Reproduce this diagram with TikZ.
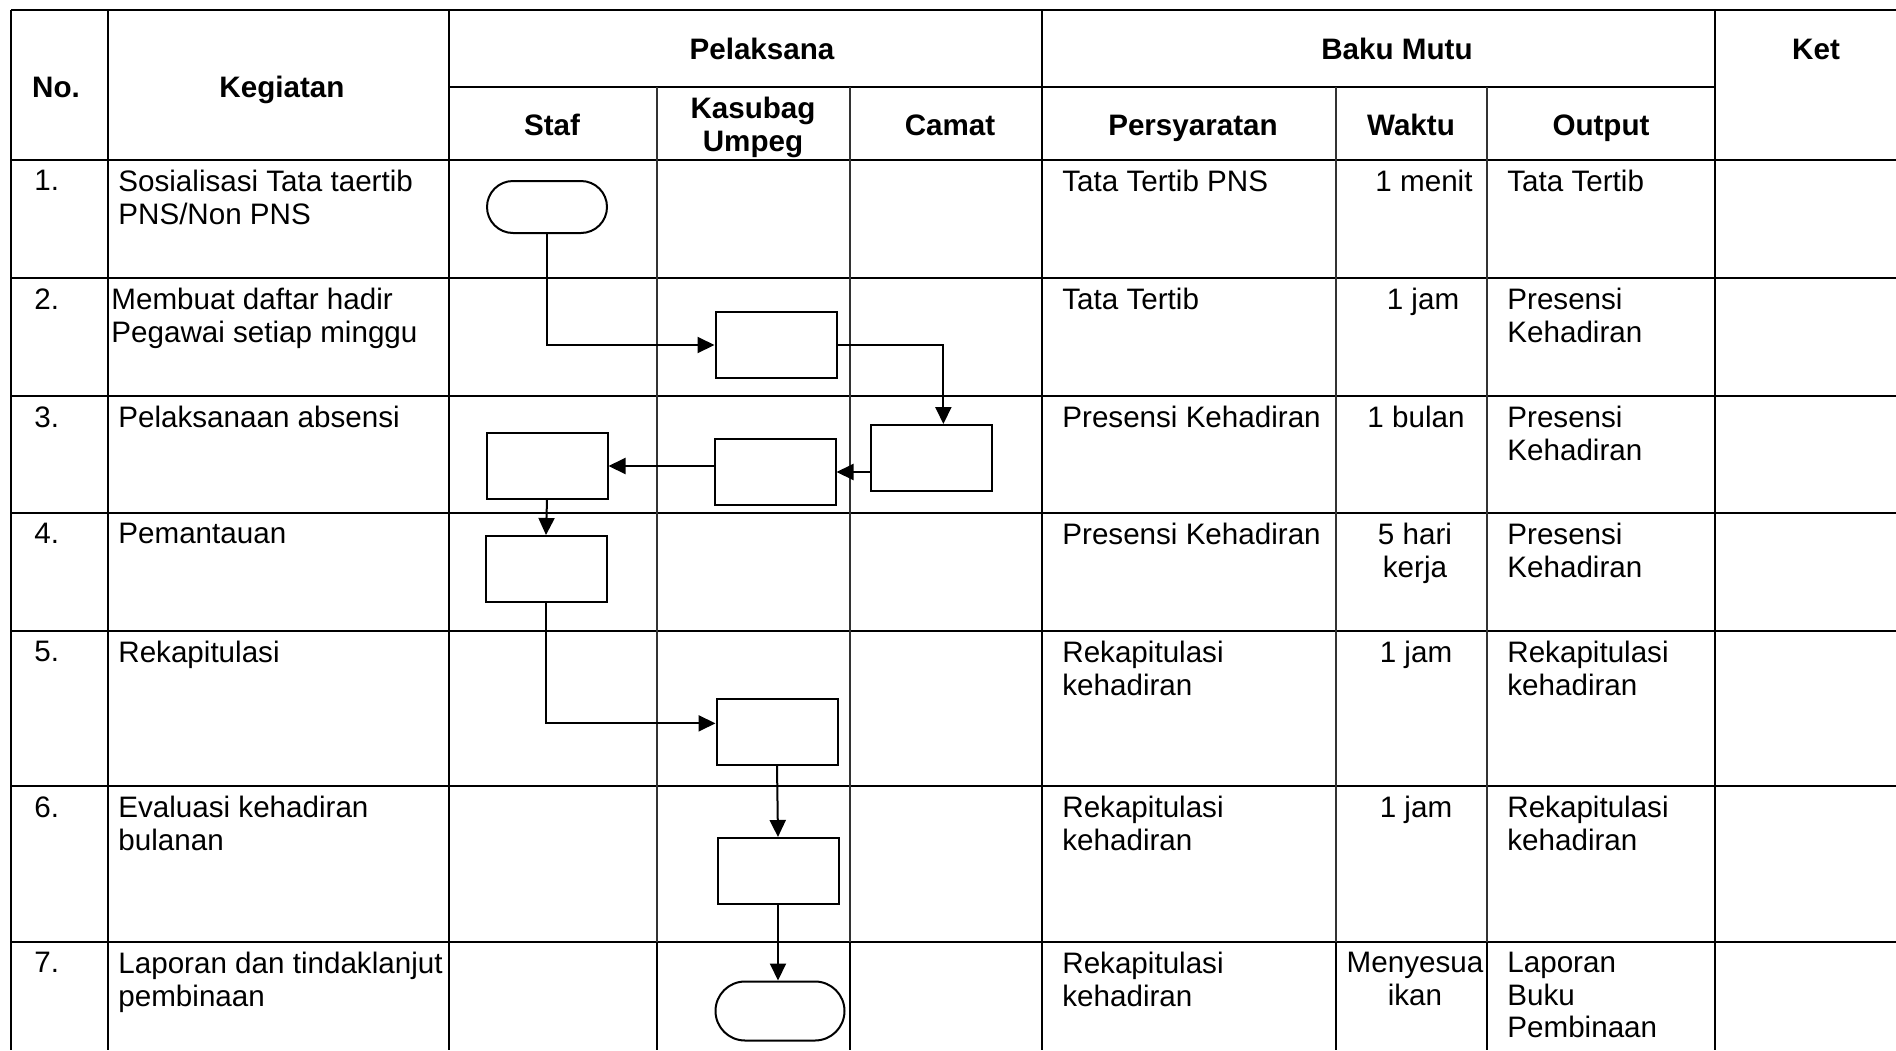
\documentclass[tikz,border=0pt]{standalone}
\usepackage{fontspec}
\setmainfont{Liberation Sans}
\usepackage{tikz}
\usetikzlibrary{arrows.meta,shapes.misc}

\begin{document}
\begin{tikzpicture}[
  x=0.5pt, y=-0.5pt,
  font=\fontsize{14.8pt}{16.2pt}\selectfont,
  hline/.style={line width=1.15pt},
  vline/.style={line width=0.7pt},
  vsub/.style={line width=0.7pt, black!80},
  head/.style={font=\fontsize{14.8pt}{16.2pt}\selectfont\bfseries, align=center, inner sep=0pt},
  cell/.style={anchor=north west, align=left, inner sep=0pt},
  ccell/.style={anchor=north, align=center, inner sep=0pt},
  box/.style={draw, line width=1pt, minimum width=60.5pt, minimum height=33pt, inner sep=0pt},
  term/.style={draw, rounded rectangle, line width=1pt, minimum width=60pt, minimum height=26pt, inner sep=0pt},
  arr/.style={-{Triangle[length=8.5pt,width=8pt]}, line width=1pt}
]
\useasboundingbox (0,0) rectangle (1896,1050);

\draw[hline] (11,10) -- (1896,10);
\draw[hline] (449,87) -- (1715,87);
\draw[hline] (11,160) -- (1896,160);
\draw[hline] (11,278) -- (1896,278);
\draw[hline] (11,396) -- (1896,396);
\draw[hline] (11,513) -- (1896,513);
\draw[hline] (11,631) -- (1896,631);
\draw[hline] (11,786) -- (1896,786);
\draw[hline] (11,942) -- (1896,942);
\draw[hline] (11,10) -- (11,1050);
\draw[vline] (108,10) -- (108,1050);
\draw[vline] (449,10) -- (449,1050);
\draw[vline] (1042,10) -- (1042,1050);
\draw[vline] (1715,10) -- (1715,1050);
\draw[vsub] (657,87) -- (657,942);
\draw[vsub] (850,87) -- (850,942);
\draw[vsub] (1336,87) -- (1336,942);
\draw[vsub] (1487,87) -- (1487,942);
\draw[vline] (657,942) -- (657,1050);
\draw[vline] (850,942) -- (850,1050);
\draw[vline] (1336,942) -- (1336,1050);
\draw[vline] (1487,942) -- (1487,1050);

\node[head, anchor=base] (hno) at (56,97) {No.};
\node[head, anchor=base] (hkeg) at (282,97) {Kegiatan};
\node[head, anchor=base] (hpel) at (762,59) {Pelaksana};
\node[head, anchor=base] (hbaku) at (1397,59) {Baku Mutu};
\node[head, anchor=base] (hket) at (1816,59) {Ket};
\node[head, anchor=base] (hstaf) at (552,135) {Staf};
\node[head, anchor=north] (hkas) at (753,97) {Kasubag\\Umpeg};
\node[head, anchor=base] (hcam) at (950,135) {Camat};
\node[head, anchor=base] (hsyr) at (1193,135) {Persyaratan};
\node[head, anchor=base] (hwkt) at (1411,135) {Waktu};
\node[head, anchor=base] (hout) at (1601,135) {Output};

\node[cell] (n1) at (34,170) {1.};
\node[cell] (k1) at (118,170) {Sosialisasi Tata taertib\\PNS/Non PNS};
\node[cell] (p1) at (1062,170) {Tata Tertib PNS};
\node[ccell] (w1) at (1424,170) {1 menit};
\node[cell] (o1) at (1507,170) {Tata Tertib};

\node[cell] (n2) at (34,288) {2.};
\node[cell] (k2) at (111,288) {Membuat daftar hadir\\Pegawai setiap minggu};
\node[cell] (p2) at (1062,288) {Tata Tertib};
\node[ccell] (w2) at (1423,288) {1 jam};
\node[cell] (o2) at (1507,288) {Presensi\\Kehadiran};

\node[cell] (n3) at (34,406) {3.};
\node[cell] (k3) at (118,406) {Pelaksanaan absensi};
\node[cell] (p3) at (1062,406) {Presensi Kehadiran};
\node[ccell] (w3) at (1416,406) {1 bulan};
\node[cell] (o3) at (1507,406) {Presensi\\Kehadiran};

\node[cell] (n4) at (34,523) {4.};
\node[cell] (k4) at (118,523) {Pemantauan};
\node[cell] (p4) at (1062,523) {Presensi Kehadiran};
\node[ccell] (w4) at (1415,523) {5 hari\\kerja};
\node[cell] (o4) at (1507,523) {Presensi\\Kehadiran};

\node[cell] (n5) at (34,641) {5.};
\node[cell] (k5) at (118,641) {Rekapitulasi};
\node[cell] (p5) at (1062,641) {Rekapitulasi\\kehadiran};
\node[ccell] (w5) at (1416,641) {1 jam};
\node[cell] (o5) at (1507,641) {Rekapitulasi\\kehadiran};

\node[cell] (n6) at (34,796) {6.};
\node[cell] (k6) at (118,796) {Evaluasi kehadiran\\bulanan};
\node[cell] (p6) at (1062,796) {Rekapitulasi\\kehadiran};
\node[ccell] (w6) at (1416,796) {1 jam};
\node[cell] (o6) at (1507,796) {Rekapitulasi\\kehadiran};

\node[cell] (n7) at (34,952) {7.};
\node[cell] (k7) at (118,952) {Laporan dan tindaklanjut\\pembinaan};
\node[cell] (p7) at (1062,952) {Rekapitulasi\\kehadiran};
\node[ccell] (w7) at (1415,952) {Menyesua\\ikan};
\node[cell] (o7) at (1507,952) {Laporan\\Buku\\Pembinaan};

\node[term] (start) at (547,207) {};
\node[box] (daftar) at (776,345) {};
\node[box] (camat) at (931,458) {};
\node[box] (kasub) at (775,472) {};
\node[box] (absen) at (547,466) {};
\node[box] (pantau) at (546,569) {};
\node[box] (rekap) at (777,732) {};
\node[box] (eval) at (778,871) {};
\node[term, minimum width=64.5pt, minimum height=29.5pt] (stop) at (780,1011) {};

\draw[arr] (start.south) |- (daftar.west);
\draw[arr] (daftar.east) -| (camat.70);
\draw[arr] (camat.west |- kasub.east) -- (kasub.east);
\draw[arr] (kasub.west |- absen.east) -- (absen.east);
\draw[arr] (absen.south) -- (pantau.north);
\draw[arr] (pantau.south) |- (rekap.172);
\draw[arr] (rekap.south) -- (eval.north);
\draw[arr] (eval.south) -- (eval.south |- stop.north);
\end{tikzpicture}
\end{document}
